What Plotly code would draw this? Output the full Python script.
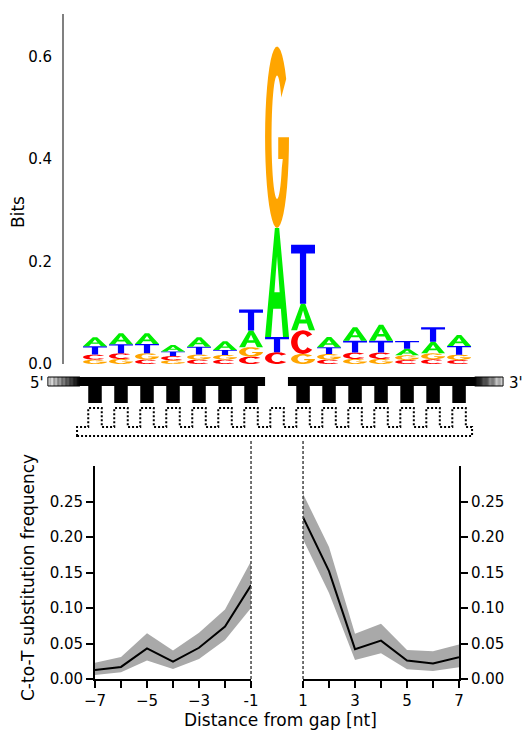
import numpy as np
import plotly.graph_objects as go

W, H = 522, 731

# sequence logo, information (bits) per base at columns 1..15
logo_pos = list(range(1, 16))
bits_A = [0.0175, 0.0215, 0.0208, 0.0130, 0.0182, 0.0169, 0.0328, 0.2130, 0.0520, 0.0200, 0.0260, 0.0312, 0.0130, 0.0228, 0.0215]
bits_C = [0.0098, 0.0111, 0.0085, 0.0082, 0.0085, 0.0085, 0.0144, 0.0230, 0.0460, 0.0085, 0.0124, 0.0124, 0.0078, 0.0091, 0.0078]
bits_G = [0.0085, 0.0098, 0.0124, 0.0072, 0.0098, 0.0091, 0.0184, 0.3540, 0.0197, 0.0110, 0.0098, 0.0098, 0.0091, 0.0117, 0.0104]
bits_T = [0.0165, 0.0176, 0.0182, 0.0088, 0.0156, 0.0098, 0.0407, 0.0295, 0.1150, 0.0130, 0.0234, 0.0234, 0.0150, 0.0280, 0.0169]
gap_col = 8

# C-to-T substitution frequency vs distance from gap
left_pos = [-7, -6, -5, -4, -3, -2, -1]
left_mean = [0.0127, 0.017, 0.043, 0.0245, 0.044, 0.074, 0.132]
left_lo = [0.0056, 0.0094, 0.026, 0.014, 0.028, 0.055, 0.100]
left_hi = [0.023, 0.031, 0.0645, 0.040, 0.065, 0.098, 0.166]

right_pos = [1, 2, 3, 4, 5, 6, 7]
right_mean = [0.228, 0.152, 0.042, 0.054, 0.026, 0.022, 0.0306]
right_lo = [0.197, 0.121, 0.0268, 0.0363, 0.0137, 0.0113, 0.0165]
right_hi = [0.261, 0.186, 0.0636, 0.0777, 0.041, 0.039, 0.0485]

freq_ticks = [0, 0.05, 0.10, 0.15, 0.20, 0.25]

COLORS = {"A": "#00ee00", "C": "#ff0000", "G": "#ffa500", "T": "#0000ff"}
FONT = "DejaVu Sans"


def py(p):
    # pixel row -> paper y
    return 1 - p / H


def arc(rx, ry, a0, a1, n=40):
    t = np.radians(np.linspace(a0, a1, n))
    return list(zip(0.5 + rx * np.cos(t), 0.5 + ry * np.sin(t)))


# letter outlines in a unit box
GLYPHS = {
    "T": [[(0, 1), (1, 1), (1, 0.85), (0.63, 0.85), (0.63, 0), (0.37, 0), (0.37, 0.85), (0, 0.85)]],
    "A": [[(0, 0), (0.41, 1), (0.59, 1), (1, 0), (0.75, 0), (0.66, 0.26), (0.34, 0.26), (0.25, 0)],
          [(0.39, 0.41), (0.61, 0.41), (0.5, 0.74)]],
    "C": [arc(0.5, 0.5, 40, 320) + arc(0.23, 0.34, 320, 40)],
    "G": [arc(0.5, 0.5, 40, 360) + [(1, 0.5), (0.55, 0.5), (0.55, 0.38), (0.74, 0.38)]
          + arc(0.23, 0.34, 330, 40)],
}


def glyph_path(letter, xc, y0, h, w=0.92):
    parts = []
    for poly in GLYPHS[letter]:
        pts = ["%.4f,%.5f" % (xc - w / 2 + u * w, y0 + v * h) for u, v in poly]
        parts.append("M" + "L".join(pts) + "Z")
    return "".join(parts)


shapes = []

# logo letters, smallest at the bottom
for i, c in enumerate(logo_pos):
    col = {"A": bits_A[i], "C": bits_C[i], "G": bits_G[i], "T": bits_T[i]}
    y0 = 0.0
    for letter, h in sorted(col.items(), key=lambda kv: kv[1]):
        shapes.append(dict(type="path", xref="x", yref="y", path=glyph_path(letter, c, y0, h),
                           fillcolor=COLORS[letter], line=dict(width=0), fillrule="evenodd"))
        y0 += h

# DNA strand cartoon
bar_top, bar_bot, tooth_bot = py(377), py(386), py(403)
strands = [(-0.81, gap_col - 0.46), (gap_col + 0.42, 16.69)]
fades = [(-0.81, 0.42), (16.69, 15.6)]
for (s0, s1), (f0, f1) in zip(strands, fades):
    shapes.append(dict(type="rect", xref="x", yref="paper", x0=s0, x1=s1, y0=bar_bot, y1=bar_top,
                       fillcolor="black", line=dict(width=0)))
    n = 24
    for k in range(n):
        a = f0 + (f1 - f0) * k / n
        b = f0 + (f1 - f0) * (k + 1) / n
        g = int(255 * (1 - (k + 0.5) / n))
        shapes.append(dict(type="rect", xref="x", yref="paper", x0=a, x1=b, y0=bar_bot, y1=bar_top,
                           fillcolor="rgb(%d,%d,%d)" % (g, g, g), line=dict(width=0)))
    shapes.append(dict(type="rect", xref="x", yref="paper", x0=min(f0, f1), x1=max(f0, f1),
                       y0=bar_bot, y1=bar_top, fillcolor="rgba(0,0,0,0)",
                       line=dict(color="black", width=1)))

for c in logo_pos:
    if c == gap_col:
        continue
    shapes.append(dict(type="rect", xref="x", yref="paper", x0=c - 0.26, x1=c + 0.26,
                       y0=tooth_bot, y1=bar_bot, fillcolor="black", line=dict(width=0)))

# dotted complementary strand
top, mid, low = py(408), py(427), py(436)
pts = [(0.31, low), (0.31, mid)]
for c in logo_pos:
    pts += [(c - 0.26, mid), (c - 0.26, top), (c + 0.26, top), (c + 0.26, mid)]
pts += [(15.5, mid), (15.5, low)]
shapes.append(dict(type="path", xref="x", yref="paper",
                   path="M" + "L".join("%.3f,%.5f" % p for p in pts) + "Z",
                   line=dict(color="black", width=2, dash="2px,2px")))

# dashed markers at the gap edges (position p sits on logo column p + 8)
for p in (left_pos[-1], right_pos[0]):
    shapes.append(dict(type="line", xref="x", yref="paper", x0=p + gap_col, x1=p + gap_col,
                       y0=py(679), y1=py(441),
                       line=dict(color="#444444", width=1.5, dash="3px,2px")))

fig = go.Figure()

fig.add_trace(go.Scatter(x=logo_pos, y=[0] * len(logo_pos), mode="none", hoverinfo="skip",
                         showlegend=False, xaxis="x", yaxis="y"))

for xs, m, lo, hi, ax in [(left_pos, left_mean, left_lo, left_hi, "2"),
                          (right_pos, right_mean, right_lo, right_hi, "3")]:
    fig.add_trace(go.Scatter(x=xs, y=lo, mode="lines", line=dict(width=0), showlegend=False,
                             hoverinfo="skip", xaxis="x" + ax, yaxis="y" + ax))
    fig.add_trace(go.Scatter(x=xs, y=hi, mode="lines", line=dict(width=0), fill="tonexty",
                             fillcolor="#a9a9a9", showlegend=False, hoverinfo="skip",
                             xaxis="x" + ax, yaxis="y" + ax))
    fig.add_trace(go.Scatter(x=xs, y=m, mode="lines", line=dict(color="black", width=2),
                             showlegend=False, xaxis="x" + ax, yaxis="y" + ax))

tickfont = dict(family=FONT, size=15, color="black")
axis_common = dict(showline=True, linecolor="black", linewidth=1.8, ticks="outside", ticklen=7,
                   tickwidth=1.8, tickcolor="black", showgrid=False, zeroline=False,
                   tickfont=tickfont, fixedrange=True, automargin=False)

fig.update_layout(
    width=W, height=H,
    margin=dict(l=0, r=0, t=0, b=0),
    paper_bgcolor="white", plot_bgcolor="rgba(0,0,0,0)",
    font=dict(family=FONT, size=15, color="black"),
    showlegend=False,
    shapes=shapes,
    xaxis=dict(domain=[0, 1], range=[-2.653, 17.42], visible=False, fixedrange=True,
               automargin=False),
    yaxis=dict(domain=[py(364), py(14)], range=[0, 0.683], anchor="free", position=63 / W,
               showline=True, linecolor="#808080", linewidth=2, ticks="",
               tickvals=[0, 0.2, 0.4, 0.6], ticktext=["0.0", "0.2", "0.4", "0.6"],
               ticklabelstandoff=7, showgrid=False, zeroline=False, tickfont=tickfont,
               fixedrange=True, automargin=False),
    xaxis2=dict(domain=[95 / W, 251 / W], range=[-7, -1], anchor="y2",
                tickvals=left_pos, ticktext=["\u22127", "", "\u22125", "", "\u22123", "", "-1"],
                **axis_common),
    yaxis2=dict(domain=[py(679), py(466)], range=[0, 0.30], anchor="x2",
                tickvals=freq_ticks, ticktext=["%.2f" % v for v in freq_ticks], **axis_common),
    xaxis3=dict(domain=[303 / W, 459 / W], range=[1, 7], anchor="y3",
                tickvals=right_pos, ticktext=["1", "", "3", "", "5", "", "7"], **axis_common),
    yaxis3=dict(domain=[py(679), py(466)], range=[0, 0.30], anchor="x3", side="right",
                tickvals=freq_ticks, ticktext=["%.2f" % v for v in freq_ticks], **axis_common),
)

title_font = dict(family=FONT, size=17, color="black")
labels = [
    ("Bits", 18, 212, -90, "center", title_font),
    ("C-to-T substitution frequency", 28, 578, -90, "center", title_font),
    ("Distance from gap [nt]", 280, 720, 0, "center", title_font),
    ("5'", 46, 383, 0, "right", tickfont),
    ("3'", 507, 383, 0, "left", tickfont),
]
for text, px, pr, angle, xa, f in labels:
    fig.add_annotation(text=text, x=px / W, y=py(pr), xref="paper", yref="paper",
                       textangle=angle, xanchor=xa, yanchor="middle", showarrow=False, font=f)

# drop the default page margin so the figure sits at the window corner
fig.write_html("out.html", config={"displayModeBar": False},
               post_script="document.body.style.margin='0px';document.body.style.overflow='hidden';")
